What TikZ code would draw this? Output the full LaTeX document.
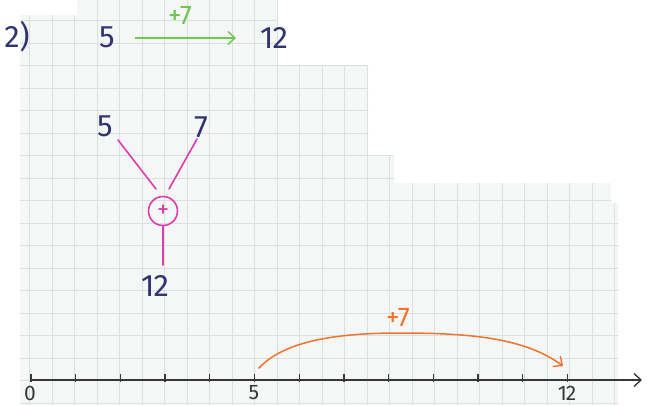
\documentclass[tikz,border=0pt]{standalone}
\usepackage{fontspec}
\setmainfont{Fira Sans}
\usetikzlibrary{arrows.meta}
\definecolor{ink}{RGB}{48,52,112}
\definecolor{gfill}{RGB}{245,247,247}
\definecolor{gline}{RGB}{218,224,226}
\definecolor{grn}{RGB}{110,200,80}
\definecolor{mag}{RGB}{222,60,170}
\definecolor{org}{RGB}{240,115,45}
\definecolor{axc}{RGB}{55,55,55}
\tikzset{
  num/.style={text=ink,font=\fontsize{31}{31}\selectfont, inner sep=0pt},
  opnum/.style={font=\fontsize{27}{27}\selectfont, inner sep=0pt},
  axnum/.style={text=axc,font=\fontsize{21}{21}\selectfont, inner sep=0pt},
  magline/.style={draw=mag,line width=1.6pt,line cap=round},
  barb/.style={-{Straight Barb[length=7pt,width=13pt,line width=1.4pt]}},
}
\begin{document}
\begin{tikzpicture}[x=1pt,y=-1pt]
\useasboundingbox (0,0) rectangle (651,405);
% paper grid
\path[fill=gfill] (77,0) -- (278,0) -- (278,65) -- (368,65) -- (368,155) -- (394,155)
  -- (394,183) -- (611,183) -- (611,203) -- (618,203) -- (618,405) -- (20,405) -- (20,15) -- (77,15) -- cycle;
\begin{scope}
\clip (77,0) -- (278,0) -- (278,65) -- (368,65) -- (368,155) -- (394,155)
  -- (394,183) -- (611,183) -- (611,203) -- (618,203) -- (618,405) -- (20,405) -- (20,15) -- (77,15) -- cycle;
\foreach \i in {0,...,28} \draw[gline,line width=0.9pt] (7+22.5*\i,0) -- (7+22.5*\i,405);
\foreach \j in {-1,...,17} \draw[gline,line width=0.9pt] (0,20.5+22.5*\j) -- (651,20.5+22.5*\j);
\end{scope}
% top row
\node[num] (lab) at (17,37) {2)};
\node[num] (a5) at (107,37) {5};
\node[num] (a12) at (274,38) {1\kern-1pt2};
\coordinate (ga) at (135,38);
\coordinate (gb) at (236,38);
\draw[grn,line width=1.5pt,barb] (ga) -- (gb);
\node[opnum,text=grn] (gp) at (180,16) {+7};
% tree
\node[num] (t5) at (105,126) {5};
\node[num] (t7) at (201,127) {7};
\node[draw=mag,line width=1.6pt,circle,minimum size=29pt,inner sep=0pt,text=mag,font=\fontsize{24}{24}\selectfont] (pl) at (163,211) {+};
\node[num] (t12) at (155,286) {1\kern-1pt2};
\coordinate (l1) at (118,140);
\coordinate (l2) at (156,189);
\coordinate (r1) at (197,139);
\coordinate (r2) at (169,189);
\coordinate (d2) at (163,265);
\draw[magline] (l1) -- (l2);
\draw[magline] (r1) -- (r2);
\draw[magline] (pl.south) -- (d2);
% number line
\coordinate (ax0) at (31,380);
\coordinate (axe) at (642,380);
\draw[axc,line width=1.5pt,-{Straight Barb[length=7pt,width=13pt,line width=1.4pt]}] (ax0) -- (axe);
\foreach \k in {0,...,12} \draw[axc,line width=1.3pt] (31+44.7*\k,374) -- (31+44.7*\k,382);
\node[axnum] (n0) at (30,393) {0};
\node[axnum] (n5) at (254,393) {5};
\node[axnum] (n12) at (567,393) {1\kern-1pt2};
% orange jump
\coordinate (o1) at (259,368);
\coordinate (o2) at (400,333);
\coordinate (o3) at (563,366);
\draw[org,line width=1.5pt,line cap=round,barb] (o1) .. controls (285,340) and (340,333) .. (o2) .. controls (470,333) and (525,338) .. (o3);
\node[opnum,text=org] (op) at (398,318) {+7};
\end{tikzpicture}
\end{document}
